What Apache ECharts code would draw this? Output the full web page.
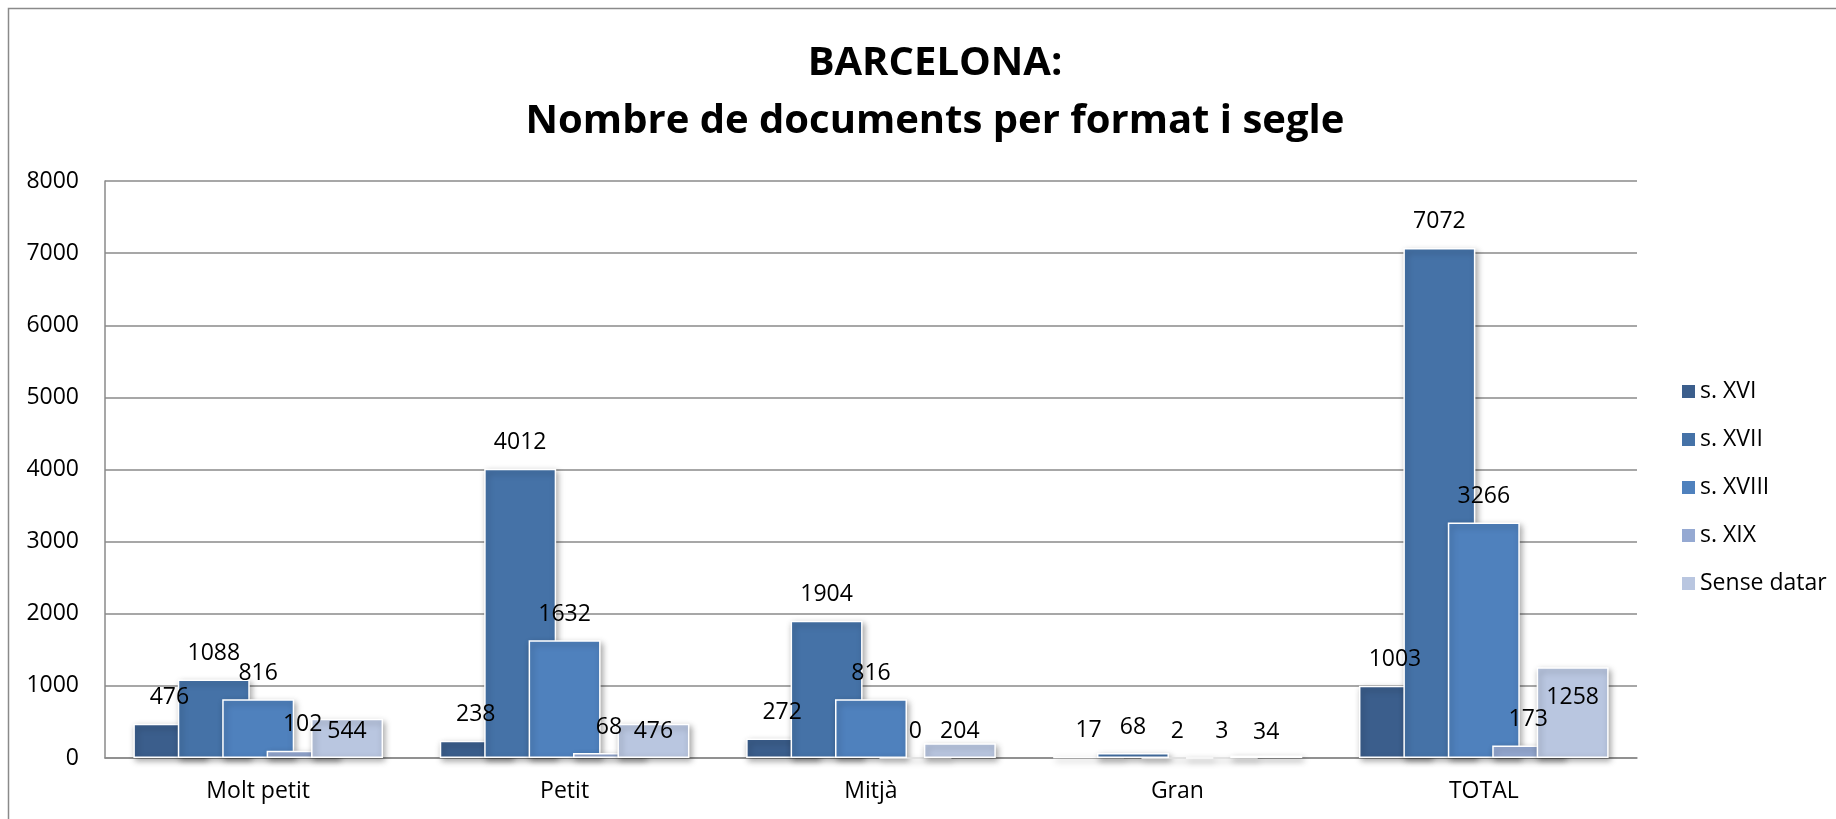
<!DOCTYPE html>
<html>
<head>
<meta charset="utf-8">
<script src="https://cdn.jsdelivr.net/npm/echarts@6/dist/echarts.min.js"></script>
<style>
html,body{margin:0;padding:0;background:#fff;}
#chart{width:1836px;height:819px;}
</style>
</head>
<body>
<div id="chart"></div>
<script>
// ---- data ----
const categories = ['Molt petit', 'Petit', 'Mitjà', 'Gran', 'TOTAL'];
const seriesNames = ['s. XVI', 's. XVII', 's. XVIII', 's. XIX', 'Sense datar'];
const sXVI = [476, 238, 272, 17, 1003];
const sXVII = [1088, 4012, 1904, 68, 7072];
const sXVIII = [816, 1632, 816, 2, 3266];
const sXIX = [102, 68, 0, 3, 173];
const senseDatar = [544, 476, 204, 34, 1258];
const yTicks = { min: 0, max: 8000, interval: 1000 };

// ---- styles ----
const colors = ['#3B5E8C', '#4572A7', '#4F81BD', '#95A9D2', '#B9C6E0'];
const FONT = 'Open Sans';
// vertical label nudges (px) for the last series, as placed in the original
const senseLabelShift = [39, 34, 14, 3, 56];

const allValues = [sXVI, sXVII, sXVIII, sXIX, senseDatar];

const chart = echarts.init(document.getElementById('chart'));

const series = allValues.map((vals, si) => ({
  name: seriesNames[si],
  type: 'bar',
  barWidth: 72,
  barGap: '-38.3%',
  data: vals.map((v, i) => {
    const d = { value: v };
    if (si === 4) d.label = { offset: [0, senseLabelShift[i]] };
    return d;
  }),
  itemStyle: {
    color: colors[si],
    borderColor: '#ffffff',
    borderWidth: 1.5,
    shadowBlur: 6,
    shadowOffsetX: 2,
    shadowOffsetY: 3,
    shadowColor: 'rgba(0,0,0,0.35)'
  },
  label: {
    show: true,
    position: 'top',
    distance: 15,
    fontFamily: FONT,
    fontSize: 23,
    lineHeight: 22,
    color: '#000'
  },
  emphasis: { disabled: true }
}));

chart.setOption({
  animation: false,
  backgroundColor: '#ffffff',
  color: colors,
  title: {
    text: 'BARCELONA:\nNombre de documents per format i segle',
    left: 930,
    top: 30,
    textAlign: 'center',
    textStyle: {
      fontFamily: FONT,
      fontWeight: 'bold',
      fontSize: 40,
      lineHeight: 58,
      color: '#000'
    }
  },
  legend: {
    orient: 'vertical',
    left: 1682,
    top: 380,
    padding: 0,
    itemWidth: 13,
    itemHeight: 13,
    itemGap: 25,
    icon: 'rect',
    itemStyle: { borderWidth: 0, shadowBlur: 0, shadowOffsetX: 0, shadowOffsetY: 0 },
    textStyle: { fontFamily: FONT, fontSize: 23, lineHeight: 23, color: '#000' },
    data: seriesNames
  },
  grid: {
    left: 105,
    right: 199,
    top: 181,
    bottom: 61,
    containLabel: false
  },
  xAxis: {
    type: 'category',
    data: categories,
    axisLine: { show: true, lineStyle: { color: '#8a8a8a', width: 1.5 } },
    axisTick: { show: false },
    axisLabel: { fontFamily: FONT, fontSize: 23, color: '#000', margin: 22 },
    splitLine: { show: false }
  },
  yAxis: {
    type: 'value',
    min: yTicks.min,
    max: yTicks.max,
    interval: yTicks.interval,
    axisLine: { show: true, lineStyle: { color: '#8a8a8a', width: 1.5 } },
    axisTick: { show: false },
    axisLabel: { fontFamily: FONT, fontSize: 23, color: '#000', margin: 26, formatter: v => String(v) },
    splitLine: { show: true, lineStyle: { color: '#8a8a8a', width: 1.5 } }
  },
  graphic: [{
    type: 'rect',
    shape: { x: 8.5, y: 8.5, width: 1900, height: 900 },
    style: { fill: 'none', stroke: '#8a8a8a', lineWidth: 1.5 },
    silent: true,
    z: -1
  }],
  series: series
});
</script>
</body>
</html>
